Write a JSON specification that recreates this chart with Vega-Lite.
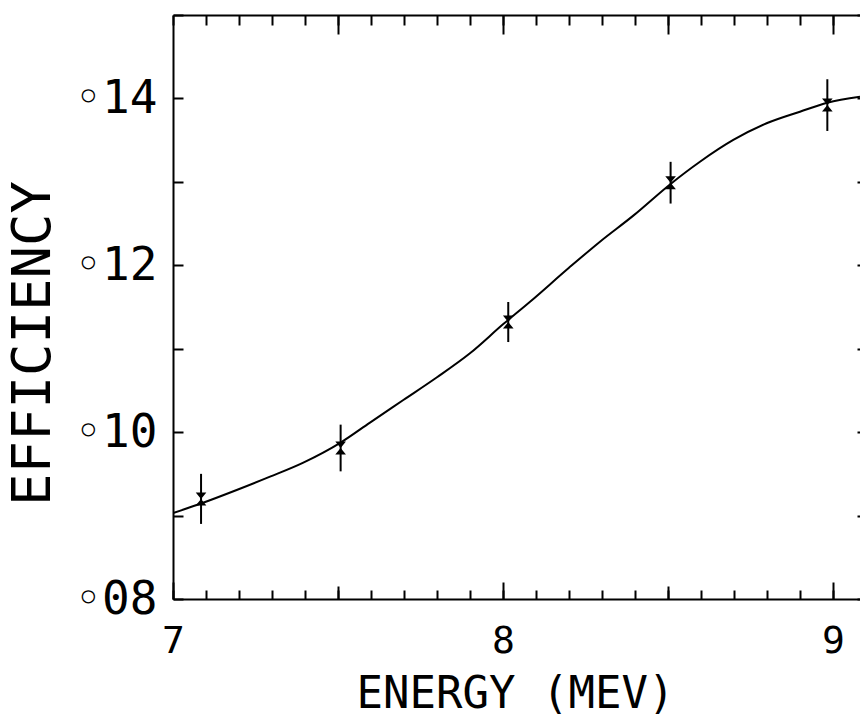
{
  "$schema": "https://vega.github.io/schema/vega-lite/v6.json",
  "width": 687,
  "height": 584,
  "autosize": {"type": "none"},
  "padding": {"left": 173, "top": 15, "right": 0, "bottom": 125},
  "background": "white",
  "config": {
    "view": {"stroke": null},
    "font": "DejaVu Sans Mono",
    "axis": {
      "grid": false,
      "domainColor": "black",
      "domainWidth": 2,
      "tickColor": "black",
      "tickWidth": 2,
      "labelColor": "black",
      "titleColor": "black",
      "labelFont": "DejaVu Sans Mono",
      "titleFont": "DejaVu Sans Mono",
      "labelFontWeight": "normal",
      "titleFontWeight": "normal",
      "labelOverlap": false,
      "labelBound": false,
      "labelFlush": false
    }
  },
  "datasets": {
    "curve": [
      {"energy": 7.0, "eff": 0.0903},
      {"energy": 7.087, "eff": 0.09147},
      {"energy": 7.193, "eff": 0.09306},
      {"energy": 7.294, "eff": 0.09466},
      {"energy": 7.395, "eff": 0.09635},
      {"energy": 7.508, "eff": 0.09875},
      {"energy": 7.597, "eff": 0.10115},
      {"energy": 7.698, "eff": 0.10385},
      {"energy": 7.799, "eff": 0.10655},
      {"energy": 7.9, "eff": 0.10945},
      {"energy": 8.001, "eff": 0.11295},
      {"energy": 8.082, "eff": 0.11563},
      {"energy": 8.2, "eff": 0.1197},
      {"energy": 8.294, "eff": 0.12283},
      {"energy": 8.395, "eff": 0.12595},
      {"energy": 8.508, "eff": 0.12975},
      {"energy": 8.597, "eff": 0.13241},
      {"energy": 8.698, "eff": 0.13502},
      {"energy": 8.799, "eff": 0.13702},
      {"energy": 8.9, "eff": 0.13841},
      {"energy": 8.983, "eff": 0.13949},
      {"energy": 9.082, "eff": 0.1402}
    ],
    "points": [
      {"energy": 7.085, "eff": 0.0920, "low": 0.0890, "high": 0.0950},
      {"energy": 7.508, "eff": 0.0981, "low": 0.0953, "high": 0.1009},
      {"energy": 8.016, "eff": 0.1132, "low": 0.1108, "high": 0.1156},
      {"energy": 8.508, "eff": 0.1299, "low": 0.1274, "high": 0.1324},
      {"energy": 8.983, "eff": 0.1392, "low": 0.1361, "high": 0.1423}
    ]
  },
  "layer": [
    {
      "data": {"name": "curve"},
      "mark": {"type": "line", "color": "black", "strokeWidth": 2, "interpolate": "monotone", "clip": true},
      "encoding": {
        "x": {
          "field": "energy",
          "type": "quantitative",
          "scale": {"domain": [7, 9.082], "nice": false, "zero": false},
          "axis": {
            "orient": "bottom",
            "values": [7, 7.1, 7.2, 7.3, 7.4, 7.5, 7.6, 7.7, 7.8, 7.9, 8, 8.1, 8.2, 8.3, 8.4, 8.5, 8.6, 8.7, 8.8, 8.9, 9],
            "tickSize": -9,
            "labelExpr": "abs(datum.value - round(datum.value)) < 0.001 ? format(datum.value, 'd') : ''",
            "labelFontSize": 38,
            "labelPadding": 51,
            "labelBaseline": "middle",
            "title": "ENERGY (MEV)",
            "titleFontSize": 44,
            "titleX": 342,
            "titleY": 95,
            "titleAlign": "center",
            "titleBaseline": "middle"
          }
        },
        "y": {
          "field": "eff",
          "type": "quantitative",
          "scale": {"domain": [0.08, 0.15], "nice": false, "zero": false},
          "axis": {
            "orient": "left",
            "values": [0.08, 0.09, 0.1, 0.11, 0.12, 0.13, 0.14, 0.15],
            "tickSize": -10,
            "labelExpr": "(round(datum.value * 100) % 2 == 0 && datum.value < 0.145) ? '◦' + substring(format(datum.value, '.2f'), 2) : ''",
            "labelFontSize": 46,
            "labelPadding": 26,
            "labelAlign": "right",
            "labelBaseline": "middle",
            "title": "EFFICIENCY",
            "titleFontSize": 54,
            "titleX": -140,
            "titleY": 328,
            "titleAngle": -90,
            "titleAlign": "center",
            "titleBaseline": "middle"
          }
        }
      }
    },
    {
      "data": {"name": "points"},
      "mark": {"type": "rule", "color": "black", "strokeWidth": 2},
      "encoding": {
        "x": {
          "field": "energy",
          "type": "quantitative",
          "scale": {"domain": [7, 9.082], "nice": false, "zero": false},
          "axis": {
            "orient": "top",
            "values": [7, 7.1, 7.2, 7.3, 7.4, 7.5, 7.6, 7.7, 7.8, 7.9, 8, 8.1, 8.2, 8.3, 8.4, 8.5, 8.6, 8.7, 8.8, 8.9, 9],
            "tickSize": -10,
            "labels": false,
            "title": null
          }
        },
        "y": {
          "field": "low",
          "type": "quantitative",
          "scale": {"domain": [0.08, 0.15], "nice": false, "zero": false},
          "axis": {
            "orient": "right",
            "values": [0.08, 0.09, 0.1, 0.11, 0.12, 0.13, 0.14, 0.15],
            "tickSize": -3,
            "domain": false,
            "labels": false,
            "title": null
          }
        },
        "y2": {"field": "high"}
      }
    },
    {
      "data": {"name": "points"},
      "mark": {"type": "point", "shape": "M-0.9,-1.1L0.9,-1.1L-0.9,1.1L0.9,1.1Z", "filled": true, "color": "black", "opacity": 1, "size": 140},
      "encoding": {
        "x": {
          "field": "energy",
          "type": "quantitative",
          "scale": {"domain": [7, 9.082], "nice": false, "zero": false},
          "axis": {"orient": "bottom", "values": [7.5, 8.5], "tickSize": -13, "domain": false, "labels": false, "title": null}
        },
        "y": {"field": "eff", "type": "quantitative", "scale": {"domain": [0.08, 0.15], "nice": false, "zero": false}, "axis": null}
      }
    },
    {
      "data": {"name": "points"},
      "mark": {"type": "point", "opacity": 0},
      "encoding": {
        "x": {
          "field": "energy",
          "type": "quantitative",
          "scale": {"domain": [7, 9.082], "nice": false, "zero": false},
          "axis": {"orient": "bottom", "values": [7, 8, 9], "tickSize": -17, "domain": false, "labels": false, "title": null}
        },
        "y": {"field": "eff", "type": "quantitative", "scale": {"domain": [0.08, 0.15], "nice": false, "zero": false}, "axis": null}
      }
    },
    {
      "data": {"name": "points"},
      "mark": {"type": "point", "opacity": 0},
      "encoding": {
        "x": {
          "field": "energy",
          "type": "quantitative",
          "scale": {"domain": [7, 9.082], "nice": false, "zero": false},
          "axis": {"orient": "top", "values": [7.5, 8, 8.5, 9], "tickSize": -19, "domain": false, "labels": false, "title": null}
        },
        "y": {"field": "eff", "type": "quantitative", "scale": {"domain": [0.08, 0.15], "nice": false, "zero": false}, "axis": null}
      }
    }
  ],
  "resolve": {"axis": {"x": "independent", "y": "independent"}}
}
